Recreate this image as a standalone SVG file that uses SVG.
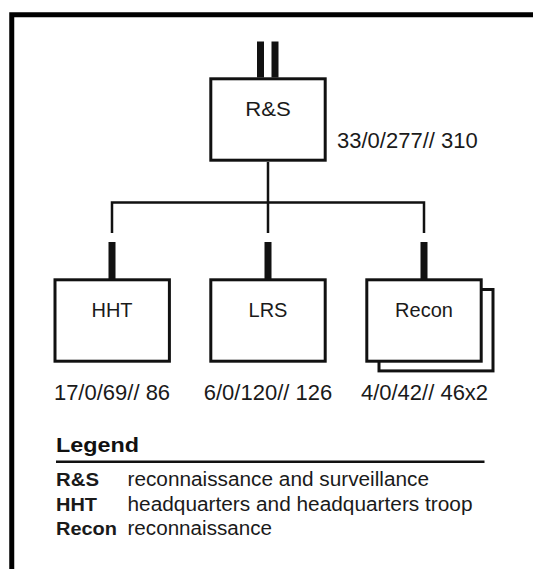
<svg xmlns="http://www.w3.org/2000/svg" width="533" height="569" viewBox="0 0 533 569">
<style>
.box{fill:#fff;stroke:#111;stroke-width:3}
.lbl{font-family:"Liberation Sans",Arial,sans-serif;font-size:20px;fill:#1a1a1a;text-anchor:middle}
.num{font-family:"Liberation Sans",Arial,sans-serif;font-size:22px;fill:#1a1a1a}
.ln{fill:none;stroke:#111;stroke-width:2.5}
.bar{fill:#111}
.lg{font-family:"Liberation Sans",Arial,sans-serif;font-size:19.5px;fill:#1a1a1a}
.lgb{font-family:"Liberation Sans",Arial,sans-serif;font-size:19px;font-weight:bold;fill:#1a1a1a}
</style>
<rect width="533" height="569" fill="#fff"/>
<path d="M11.75 569 V14.75 H533" fill="none" stroke="#000" stroke-width="5"/>
<g id="connectors">
<path class="ln" d="M268 162 V202.5 M112 233 V202.5 H424 V233 M268 202.5 V233"/>
<rect class="bar" x="108.5" y="242" width="7" height="37"/>
<rect class="bar" x="264.5" y="242" width="7" height="37"/>
<rect class="bar" x="420.5" y="242" width="7" height="37"/>
</g>
<g id="rs">
<rect class="bar" x="257" y="41.5" width="7" height="36"/>
<rect class="bar" x="271.5" y="41.5" width="7" height="36"/>
<rect class="box" x="210.8" y="78.8" width="114.4" height="81.4"/>
<text class="lbl" x="268" y="116" textLength="45.5" lengthAdjust="spacingAndGlyphs">R&amp;S</text>
<text class="num" x="337" y="148">33/0/277// 310</text>
</g>
<g id="hht">
<rect class="box" x="55" y="279.8" width="114.4" height="81.4"/>
<text class="lbl" x="112" y="316.5">HHT</text>
<text class="num" x="112" y="400" text-anchor="middle">17/0/69// 86</text>
</g>
<g id="lrs">
<rect class="box" x="210.8" y="279.8" width="114.4" height="81.4"/>
<text class="lbl" x="268" y="316.5">LRS</text>
<text class="num" x="268" y="400" text-anchor="middle">6/0/120// 126</text>
</g>
<g id="recon">
<rect class="box" x="379" y="289.5" width="114" height="81.4"/>
<rect class="box" x="366.8" y="279.8" width="114.4" height="81.4"/>
<text class="lbl" x="424" y="316.5">Recon</text>
<text class="num" x="424.5" y="400" text-anchor="middle">4/0/42// 46x2</text>
</g>
<g id="legend">
<text x="56" y="452" font-family="'Liberation Sans',Arial,sans-serif" font-size="19.5" font-weight="900" fill="#111" textLength="83" lengthAdjust="spacingAndGlyphs">Legend</text>
<line x1="56" y1="461.7" x2="484.5" y2="461.7" stroke="#111" stroke-width="2.5"/>
<text class="lgb" x="56" y="486" textLength="43" lengthAdjust="spacingAndGlyphs">R&amp;S</text>
<text class="lg" x="127.5" y="486" textLength="301.5" lengthAdjust="spacingAndGlyphs">reconnaissance and surveillance</text>
<text class="lgb" x="56" y="510.7" textLength="41" lengthAdjust="spacingAndGlyphs">HHT</text>
<text class="lg" x="127.5" y="510.7" textLength="345" lengthAdjust="spacingAndGlyphs">headquarters and headquarters troop</text>
<text class="lgb" x="56" y="535" textLength="61" lengthAdjust="spacingAndGlyphs">Recon</text>
<text class="lg" x="127.5" y="535" textLength="144.5" lengthAdjust="spacingAndGlyphs">reconnaissance</text>
</g>
</svg>
